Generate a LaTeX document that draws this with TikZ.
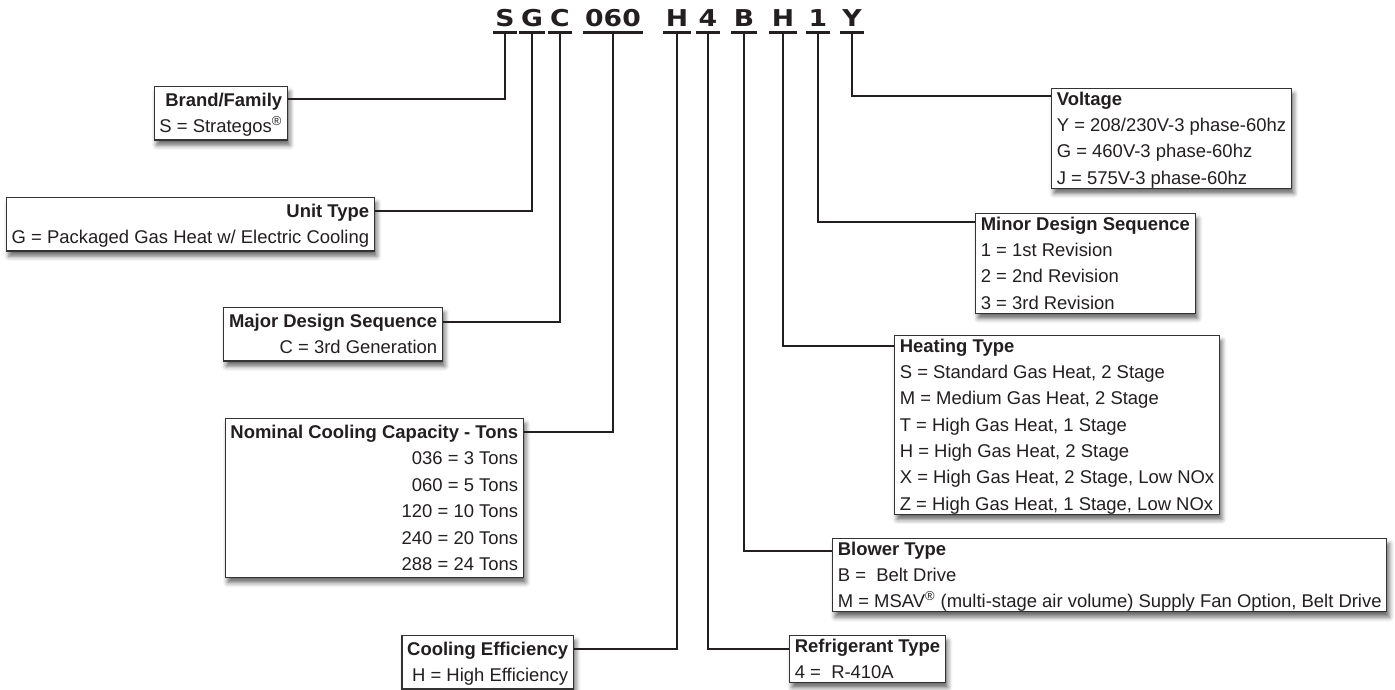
\documentclass[tikz,border=0pt]{standalone}
\usepackage{fontspec}
\setmainfont{Liberation Sans}
\newfontfamily\codefont[FakeStretch=1.15]{DejaVu Sans}
\usetikzlibrary{positioning, shadows.blur}
\definecolor{ink}{HTML}{231F20}
\definecolor{frame}{HTML}{333333}
% row struts: first / last line of the left and right boxes
\newcommand{\tstrutL}{\rule{0pt}{11.4pt}}
\newcommand{\bstrutL}{\rule[-4pt]{0pt}{4pt}}
\newcommand{\tstrutR}{\rule{0pt}{9.4pt}}
\newcommand{\bstrutR}{\rule[-2.3pt]{0pt}{2.3pt}}

\begin{document}
\begin{tikzpicture}[
    box/.style = {
        rectangle,
        draw=frame,
        line width=0.65pt,
        fill=white,
        inner xsep=3pt,
        inner ysep=0pt,
        text=ink,
        font=\fontsize{10.5}{15}\selectfont,
        blur shadow={shadow xshift=1.4pt, shadow yshift=-3pt, shadow blur radius=2.6pt, shadow opacity=60}
    },
    leftbox/.style = {box, align=right, anchor=north east},
    rightbox/.style = {box, align=left, anchor=north west},
    code/.style = {font=\codefont\bfseries\fontsize{13.2}{14}\selectfont, text=ink,
        inner xsep=1.2pt, inner ysep=3.1pt, text height=9.6pt, text depth=0pt, anchor=south},
    uline/.style = {draw=ink, line width=1.5pt},
    link/.style = {draw=ink, line width=1.1pt}
]
    \useasboundingbox (0,0) rectangle (27.9,13.8);

    % === MODEL NUMBER ===
    \node[code] (cS)    at (10.10,13.15) {S};
    \node[code] (cG)    at (10.64,13.15) {G};
    \node[code] (cC)    at (11.20,13.15) {C};
    \node[code] (cCap)  at (12.26,13.15) {060};
    \node[code] (cEff)  at (13.54,13.15) {H};
    \node[code] (cRef)  at (14.16,13.15) {4};
    \node[code] (cBlow) at (14.88,13.15) {B};
    \node[code] (cHeat) at (15.66,13.15) {H};
    \node[code] (cMin)  at (16.36,13.15) {1};
    \node[code] (cVolt) at (17.04,13.15) {Y};

    \draw[uline] (cS.south west) -- (cS.south east);
    \draw[uline] (cG.south west) -- (cG.south east);
    \draw[uline] (cC.south west) -- (cC.south east);
    \draw[uline] (cCap.south west) -- (cCap.south east);
    \draw[uline] (cEff.south west) -- (cEff.south east);
    \draw[uline] (cRef.south west) -- (cRef.south east);
    \draw[uline] (cBlow.south west) -- (cBlow.south east);
    \draw[uline] (cHeat.south west) -- (cHeat.south east);
    \draw[uline] (cMin.south west) -- (cMin.south east);
    \draw[uline] (cVolt.south west) -- (cVolt.south east);

    % === LEFT BOXES ===
    \node[leftbox] (brand) at (5.76,12.08) {\tstrutL\textbf{Brand/Family}\\S = Strategos\textsuperscript{®}\bstrutL};
    \node[leftbox] (unit) at (7.50,9.86) {\tstrutL\textbf{Unit Type}\\G = Packaged Gas Heat w/ Electric Cooling\bstrutL};
    \node[leftbox] (major) at (8.86,7.66) {\tstrutL\textbf{Major Design Sequence}\\C = 3rd Generation\bstrutL};
    \node[leftbox] (capacity) at (10.48,5.44) {\tstrutL\textbf{Nominal Cooling Capacity - Tons}\\
        036 = 3 Tons\\060 = 5 Tons\\120 = 10 Tons\\240 = 20 Tons\\288 = 24 Tons\bstrutL};
    \node[leftbox] (efficiency) at (11.48,1.10) {\tstrutL\textbf{Cooling Efficiency}\\H = High Efficiency\bstrutL};

    % === RIGHT BOXES ===
    \node[rightbox] (voltage) at (21.02,12.04) {\tstrutR\textbf{Voltage}\\
        Y = 208/230V-3 phase-60hz\\G = 460V-3 phase-60hz\\J = 575V-3 phase-60hz\bstrutR};
    \node[rightbox] (minor) at (19.50,9.54) {\tstrutR\textbf{Minor Design Sequence}\\
        1 = 1st Revision\\2 = 2nd Revision\\3 = 3rd Revision\bstrutR};
    \node[rightbox] (heating) at (17.88,7.10) {\tstrutR\textbf{Heating Type}\\
        S = Standard Gas Heat, 2 Stage\\M = Medium Gas Heat, 2 Stage\\
        T = High Gas Heat, 1 Stage\\H = High Gas Heat, 2 Stage\\
        X = High Gas Heat, 2 Stage, Low NOx\\Z = High Gas Heat, 1 Stage, Low NOx\bstrutR};
    \node[rightbox] (blower) at (16.64,3.04) {\tstrutR\textbf{Blower Type}\\
        B = \ Belt Drive\\M = MSAV\textsuperscript{®} (multi-stage air volume) Supply Fan Option, Belt Drive\bstrutR};
    \node[rightbox] (refrigerant) at (15.78,1.10) {\tstrutR\textbf{Refrigerant Type}\\4 = \ R-410A\bstrutR};

    % === CONNECTORS ===
    \draw[link] (cS.south) |- ([yshift=-0.26cm]brand.north east);
    \draw[link] (cG.south) |- ([yshift=-0.28cm]unit.north east);
    \draw[link] (cC.south) |- ([yshift=-0.30cm]major.north east);
    \draw[link] (cCap.south) |- ([yshift=-0.28cm]capacity.north east);
    \draw[link] (cEff.south) |- ([yshift=-0.28cm]efficiency.north east);
    \draw[link] (cRef.south) |- ([yshift=-0.28cm]refrigerant.north west);
    \draw[link] (cBlow.south) |- ([yshift=-0.26cm]blower.north west);
    \draw[link] (cHeat.south) |- ([yshift=-0.22cm]heating.north west);
    \draw[link] (cMin.south) |- ([yshift=-0.18cm]minor.north west);
    \draw[link] (cVolt.south) |- ([yshift=-0.16cm]voltage.north west);

\end{tikzpicture}
\end{document}
